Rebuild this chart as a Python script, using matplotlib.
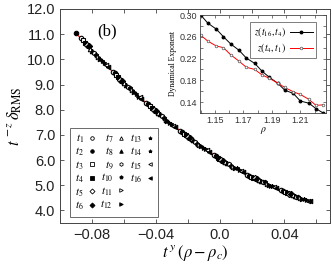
import numpy as np
import matplotlib.pyplot as plt
from matplotlib.lines import Line2D
from matplotlib.ticker import MultipleLocator

plt.rcParams['font.family'] = ['Liberation Sans', 'DejaVu Sans']
plt.rcParams['mathtext.fontset'] = 'stix'

# collapsed data, one row per time t1..t16
collapse_x = [
    [-0.0868, -0.0670, -0.0460, -0.0250, -0.0040, 0.0170, 0.0380],
    [-0.0900, -0.0658, -0.0448, -0.0238, -0.0028, 0.0182, 0.0392],
    [-0.0856, -0.0646, -0.0436, -0.0226, -0.0016, 0.0194, 0.0404],
    [-0.0844, -0.0634, -0.0424, -0.0214, -0.0004, 0.0206, 0.0416],
    [-0.0832, -0.0622, -0.0412, -0.0202, 0.0008, 0.0218, 0.0428],
    [-0.0820, -0.0610, -0.0400, -0.0190, 0.0020, 0.0230, 0.0440],
    [-0.0808, -0.0598, -0.0388, -0.0178, 0.0032, 0.0242, 0.0452],
    [-0.0796, -0.0586, -0.0376, -0.0166, 0.0044, 0.0254, 0.0464],
    [-0.0784, -0.0574, -0.0364, -0.0154, 0.0056, 0.0266, 0.0476],
    [-0.0772, -0.0562, -0.0352, -0.0142, 0.0068, 0.0278, 0.0488],
    [-0.0760, -0.0550, -0.0340, -0.0130, 0.0080, 0.0290, 0.0500],
    [-0.0748, -0.0538, -0.0328, -0.0118, 0.0092, 0.0302, 0.0512],
    [-0.0736, -0.0526, -0.0316, -0.0106, 0.0104, 0.0314, 0.0524],
    [-0.0724, -0.0514, -0.0304, -0.0094, 0.0116, 0.0326, 0.0536],
    [-0.0712, -0.0502, -0.0292, -0.0082, 0.0128, 0.0338, 0.0548],
    [-0.0700, -0.0490, -0.0280, -0.0070, 0.0140, 0.0350, 0.0560],
]
collapse_y = [
    [10.83, 9.51, 8.26, 7.17, 6.21, 5.42, 4.80],
    [11.05, 9.44, 8.22, 7.11, 6.16, 5.38, 4.76],
    [10.75, 9.36, 8.13, 7.05, 6.08, 5.34, 4.73],
    [10.66, 9.28, 8.06, 6.99, 6.06, 5.30, 4.70],
    [10.58, 9.17, 8.00, 6.93, 6.01, 5.27, 4.67],
    [10.54, 9.13, 7.93, 6.87, 5.96, 5.23, 4.64],
    [10.42, 9.06, 7.87, 6.82, 5.92, 5.19, 4.62],
    [10.33, 8.99, 7.81, 6.80, 5.87, 5.16, 4.59],
    [10.25, 8.92, 7.74, 6.71, 5.83, 5.12, 4.53],
    [10.18, 8.85, 7.68, 6.65, 5.78, 5.12, 4.53],
    [10.10, 8.78, 7.58, 6.60, 5.74, 5.05, 4.50],
    [10.02, 8.70, 7.56, 6.57, 5.69, 5.01, 4.47],
    [9.94, 8.63, 7.49, 6.49, 5.69, 4.98, 4.45],
    [9.86, 8.52, 7.43, 6.44, 5.61, 4.95, 4.42],
    [9.78, 8.49, 7.37, 6.38, 5.57, 4.94, 4.39],
    [9.70, 8.43, 7.31, 6.33, 5.52, 4.88, 4.36],
]
series_labels = [r'$t_{%d}$' % i for i in range(1, 17)]
series_markers = ['o', 'o', 's', 's', 'D', 'D', '^', '^', 'h', 'p', '>', '>', '*', '*', '<', '<']
series_filled = [False, True, False, True, False, True, False, True,
                 False, True, False, True, True, True, False, True]

# scaling function (red line)
fit_x = [-0.090, -0.080, -0.070, -0.060, -0.050, -0.040, -0.030, -0.020,
         -0.010, 0.000, 0.010, 0.020, 0.030, 0.040, 0.050, 0.057]
fit_y = [11.05, 10.36, 9.70, 9.07, 8.48, 7.93, 7.41, 6.92,
         6.46, 6.04, 5.66, 5.32, 5.02, 4.74, 4.50, 4.34]

# inset: dynamical exponent vs rho
rho = [1.140, 1.145, 1.151, 1.156, 1.161, 1.167, 1.172, 1.178, 1.183,
       1.188, 1.194, 1.199, 1.205, 1.210, 1.216, 1.221, 1.226]
z_16_4 = [0.300, 0.285, 0.274, 0.260, 0.247, 0.235, 0.221, 0.211, 0.197,
          0.186, 0.175, 0.162, 0.156, 0.142, 0.138, 0.128, 0.120]
z_4_1 = [0.263, 0.252, 0.243, 0.240, 0.227, 0.215, 0.204, 0.200, 0.190,
         0.184, 0.175, 0.167, 0.159, 0.154, 0.145, 0.134, 0.135]

xticks_main = [-0.08, -0.04, 0.0, 0.04]
xticklabels_main = ['\u22120.08', '\u22120.04', '0.0', '0.04']
yticks_main = [4, 5, 6, 7, 8, 9, 10, 11, 12]

axcol = '#444444'

fig = plt.figure(figsize=(3.32, 2.69), dpi=100)
ax = fig.add_axes([60/332, 1-223/269, 270/332, 214/269])

ax.plot(fit_x, fit_y, color='red', lw=0.8, zorder=1)
for i in range(16):
    ax.plot(collapse_x[i], collapse_y[i], ls='none', marker=series_markers[i],
            mfc='black' if series_filled[i] else 'white', mec='black',
            ms=3.2, mew=0.8, label=series_labels[i], zorder=2)

ax.set_xlim(-0.0998, 0.0685)
ax.set_ylim(3.5, 12.0)
ax.set_xticks(xticks_main)
ax.set_xticklabels(xticklabels_main)
ax.xaxis.set_minor_locator(MultipleLocator(0.02))
ax.set_yticks(yticks_main)
ax.set_yticklabels(['%.1f' % v for v in yticks_main])
ax.tick_params(which='both', direction='in', top=True, right=True, length=3,
               width=0.6, color=axcol, labelsize=10.5, labelcolor='#222222')
for s in ax.spines.values():
    s.set_color(axcol)
    s.set_linewidth(0.7)
ax.set_xlabel(r'$t^{\,y}\,(\rho - \rho_c)$', fontsize=12, labelpad=1)
ax.set_ylabel(r'$t^{\,-z}\,\delta_{\rm RMS}$', fontsize=12, labelpad=2)
ax.text(-0.0705, 11.1, '(b)', fontsize=12, family='Liberation Serif',
        ha='center', va='center')

handles, labels = ax.get_legend_handles_labels()
blank = Line2D([], [], ls='none', marker='none')
handles += [blank, blank]
labels += ['', '']
leg = ax.legend(handles, labels, ncol=3, loc='lower left',
                bbox_to_anchor=(0.037, 0.028), borderaxespad=0, fontsize=8,
                markerfirst=False, handlelength=0.5, handletextpad=0.45,
                columnspacing=0.55, labelspacing=0.08, borderpad=0.45,
                fancybox=False, edgecolor=axcol, markerscale=0.8)
leg.get_frame().set_linewidth(0.7)
for h in leg.legend_handles:
    h.set_markeredgewidth(0.6)

# inset
axin = fig.add_axes([200/332, 1-113/269, 126/332, 98/269])
axin.plot(rho, z_16_4, color='black', marker='o', ms=1.8, lw=0.7,
          label=r'$z(t_{16},t_4)$')
axin.plot(rho, z_4_1, color='red', marker='o', ms=1.9, lw=0.7, mfc='white',
          mec='#555555', mew=0.5, label=r'$z(t_4,t_1)$')
axin.set_xlim(1.1395, 1.228)
axin.set_ylim(0.12, 0.30)
axin.set_xticks([1.15, 1.17, 1.19, 1.21])
axin.xaxis.set_minor_locator(MultipleLocator(0.01))
axin.set_yticks([0.14, 0.18, 0.22, 0.26, 0.30])
axin.yaxis.set_minor_locator(MultipleLocator(0.02))
axin.tick_params(which='both', direction='in', top=True, right=True, length=2.5,
                 width=0.5, color=axcol, labelsize=6.5, labelcolor='#333333', pad=2)
for s in axin.spines.values():
    s.set_color(axcol)
    s.set_linewidth(0.6)
axin.set_ylabel('Dynamical Exponent', fontsize=5.5, family='Liberation Serif', labelpad=2)
axin.set_xlabel(r'$\rho$', fontsize=7, labelpad=0)
lg2 = axin.legend(loc='upper right', bbox_to_anchor=(0.92, 0.93), borderaxespad=0,
                  fontsize=7, markerfirst=False, handlelength=2.3, handletextpad=0.4,
                  labelspacing=0.2, borderpad=0.35, fancybox=False, edgecolor=axcol)
lg2.get_frame().set_linewidth(0.6)

fig.savefig('out.png', dpi=100)
